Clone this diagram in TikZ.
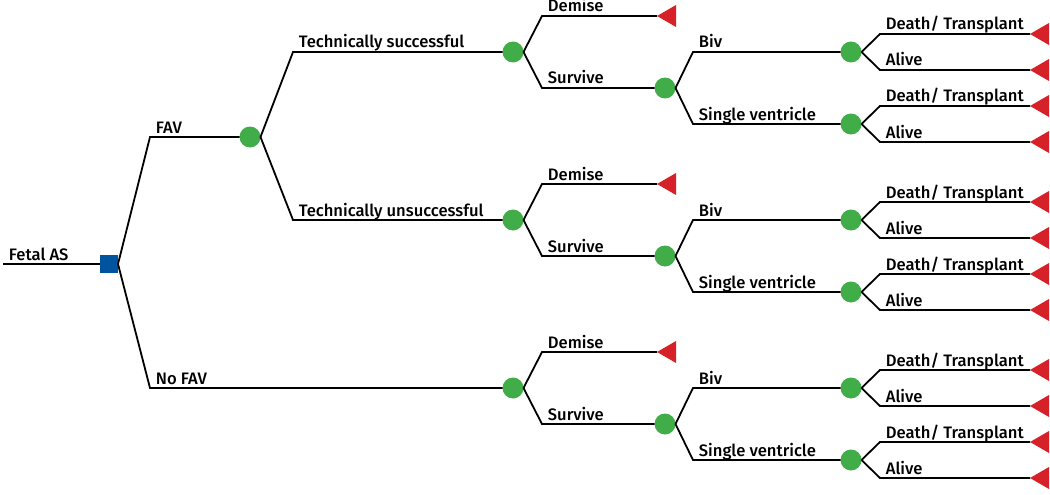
\documentclass[tikz,border=0pt]{standalone}
\usepackage{fontspec}
\setmainfont{Fira Sans}[UprightFont=* Medium]
\usetikzlibrary{shapes.geometric}

\definecolor{decblue}{RGB}{0,84,159}
\definecolor{chgreen}{RGB}{64,173,73}
\definecolor{termred}{RGB}{213,33,39}

\begin{document}
\begin{tikzpicture}[
  x=1pt, y=-1pt,
  line width=1.8pt,
  decision/.style={
    rectangle,
    fill=decblue,
    minimum size=18pt,
    inner sep=0pt, outer sep=0pt
  },
  chance/.style={
    circle,
    fill=chgreen,
    minimum size=21pt,
    inner sep=0pt, outer sep=0pt
  },
  terminal/.style={
    isosceles triangle,
    isosceles triangle stretches,
    shape border rotate=180,
    fill=termred,
    minimum height=19pt, minimum width=22pt,
    inner sep=0pt, outer sep=0pt,
    anchor=apex
  },
  branch label/.style={
    anchor=base west,
    inner sep=0pt,
    xshift=5pt, yshift=4pt,
    font=\fontsize{16.6}{19}\selectfont
  }
  ]
\useasboundingbox (0,0) rectangle (1050,495);
% Fetal AS
\coordinate (fetal as) at (3,264);
\node [decision] (root) at (109,264) {};
\draw (fetal as) -- (root);
\node [branch label] (fetal as label) at (fetal as) {Fetal AS};
% FAV
\coordinate (fav bend) at (150,137);
\node [chance] (fav) at (250,137) {};
\draw (root.east) -- (fav bend) -- (fav);
\node [branch label] (fav label) at (fav bend) {FAV};
% No FAV
\coordinate (no fav bend) at (150,388);
\node [chance] (arm c) at (513,388) {};
\draw (root.east) -- (no fav bend) -- (arm c);
\node [branch label] (no fav label) at (no fav bend) {No FAV};
% Technically successful
\coordinate (ts bend) at (293,52);
\node [chance] (arm a) at (513,52) {};
\draw (fav.east) -- (ts bend) -- (arm a);
\node [branch label] (ts label) at (ts bend) {Technically successful};
% Technically unsuccessful
\coordinate (tu bend) at (293,220);
\node [chance] (arm b) at (513,220) {};
\draw (fav.east) -- (tu bend) -- (arm b);
\node [branch label] (tu label) at (tu bend) {Technically unsuccessful};
% Demise / Survive and what follows, once per arm
\foreach \n/\y in {a/52,b/220,c/388} {
  \coordinate (demise-bend-\n) at (542,{\y-36});
  \node [terminal] (demise-\n) at (657,{\y-36}) {};
  \draw (arm \n.east) -- (demise-bend-\n) -- (demise-\n.apex);
  \node [branch label] at (demise-bend-\n) {Demise};
  \coordinate (survive-bend-\n) at (542,{\y+36});
  \node [chance] (survive-\n) at (665,{\y+36}) {};
  \draw (arm \n.east) -- (survive-bend-\n) -- (survive-\n);
  \node [branch label] at (survive-bend-\n) {Survive};
  % Biv / Single ventricle
  \foreach \m/\d/\txt in {biv/0/Biv, sv/72/Single ventricle} {
    \coordinate (\m-bend-\n) at (693,{\y+\d});
    \node [chance] (\m-\n) at (851,{\y+\d}) {};
    \draw (survive-\n.east) -- (\m-bend-\n) -- (\m-\n);
    \node [branch label] at (\m-bend-\n) {\txt};
    % Death/ Transplant / Alive
    \coordinate (death-bend-\m-\n) at (880,{\y+\d-18});
    \node [terminal] (death-\m-\n) at (1030,{\y+\d-18}) {};
    \draw (\m-\n.east) -- (death-bend-\m-\n) -- (death-\m-\n.apex);
    \node [branch label] at (death-bend-\m-\n) {Death/ Transplant};
    \coordinate (alive-bend-\m-\n) at (880,{\y+\d+18});
    \node [terminal] (alive-\m-\n) at (1030,{\y+\d+18}) {};
    \draw (\m-\n.east) -- (alive-bend-\m-\n) -- (alive-\m-\n.apex);
    \node [branch label] at (alive-bend-\m-\n) {Alive};
  }
}
\end{tikzpicture}
\end{document}
